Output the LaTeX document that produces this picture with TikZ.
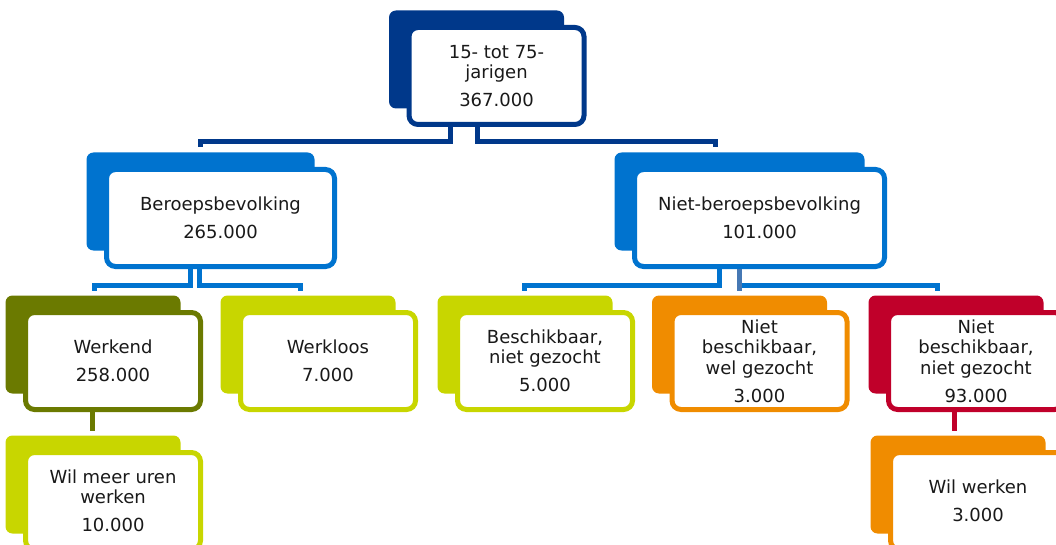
\documentclass[tikz,border=0pt]{standalone}
\usepackage{fontspec}
\setmainfont{DejaVu Sans}
\usetikzlibrary{backgrounds}
\definecolor{navy}{RGB}{0,56,138}
\definecolor{cbsblue}{RGB}{0,115,207}
\definecolor{steel}{RGB}{70,120,180}
\definecolor{olive}{RGB}{107,122,0}
\definecolor{lime}{RGB}{200,214,0}
\definecolor{cbsorange}{RGB}{240,140,0}
\definecolor{cbsred}{RGB}{192,0,42}
\begin{document}
\begin{tikzpicture}[x=1pt,y=-1pt,
    box/.style={draw=#1, line width=5pt, fill=white, rounded corners=9pt,
      minimum width=175pt, minimum height=97pt, inner sep=0pt, align=center,
      font=\fontsize{18}{20.5}\selectfont, text=black!90},
    link/.style={draw=#1, line width=5pt}]
  \useasboundingbox (0,0) rectangle (1056,545);
  \clip (0,0) rectangle (1056,545);
  % front boxes
  \node[box=navy] (top) at (496.5,76) {15- tot 75-\\jarigen\\[7.5pt]367.000};
  \node[box=cbsblue, minimum width=228pt] (beroeps) at (220.5,218) {Beroepsbevolking\\[7.5pt]265.000};
  \node[box=cbsblue, minimum width=250pt] (niet) at (759.5,218) {Niet-beroepsbevolking\\[7.5pt]101.000};
  \node[box=olive] (werkend) at (113,361) {Werkend\\[7.5pt]258.000};
  \node[box=lime] (werkloos) at (328,361) {Werkloos\\[7.5pt]7.000};
  \node[box=lime] (beschik) at (545,361) {Beschikbaar,\\niet gezocht\\[7.5pt]5.000};
  \node[box=cbsorange] (nbwg) at (759.5,361) {Niet\\beschikbaar,\\wel gezocht\\[7.5pt]3.000};
  \node[box=cbsred] (nbng) at (976,361) {Niet\\beschikbaar,\\niet gezocht\\[7.5pt]93.000};
  \node[box=lime] (wilmeer) at (113,501) {Wil meer uren\\werken\\[7.5pt]10.000};
  \node[box=cbsorange] (wilwerk) at (978,501) {Wil werken\\[7.5pt]3.000};
  % shadow boxes behind
  \begin{scope}[on background layer]
    \foreach \n/\c in {top/navy, beroeps/cbsblue, niet/cbsblue, werkend/olive,
        werkloos/lime, beschik/lime, nbwg/cbsorange, nbng/cbsred,
        wilmeer/lime, wilwerk/cbsorange}
      \fill[\c, rounded corners=7pt] ([shift={(-17.5,-14.5)}]\n.north west)
        rectangle ([shift={(-22.5,-18.5)}]\n.south east);
  \end{scope}
  % connectors
  \draw[link=navy] ([shift={(-46.5,0)}]top.south) -- ++(0,14.5) -| ([shift={(-20.5,-19.5)}]beroeps.north);
  \draw[link=navy] ([shift={(-19.5,0)}]top.south) -- ++(0,14.5) -| ([shift={(-44.5,-19.5)}]niet.north);
  \draw[link=cbsblue] ([shift={(-30.5,0)}]beroeps.south) -- ++(0,16.5) -| ([shift={(-19,-19.5)}]werkend.north);
  \draw[link=cbsblue] ([shift={(-21.5,0)}]beroeps.south) -- ++(0,16.5) -| ([shift={(-28,-19.5)}]werkloos.north);
  \draw[link=cbsblue] ([shift={(-40.5,0)}]niet.south) -- ++(0,16.5) -| ([shift={(-21,-19.5)}]beschik.north);
  \draw[link=cbsblue] ([shift={(-20.5,0)}]niet.south) -- ++(0,16.5) -| ([shift={(-39,-19.5)}]nbng.north);
  \draw[link=steel] ([shift={(-20.5,0)}]niet.south) -- ([shift={(-20.5,-19.5)}]nbwg.north);
  \draw[link=olive] ([shift={(-21,0)}]werkend.south) -- ([shift={(-21,-19.5)}]wilmeer.north);
  \draw[link=cbsred] ([shift={(-22,0)}]nbng.south) -- ([shift={(-24,-19.5)}]wilwerk.north);
\end{tikzpicture}
\end{document}
